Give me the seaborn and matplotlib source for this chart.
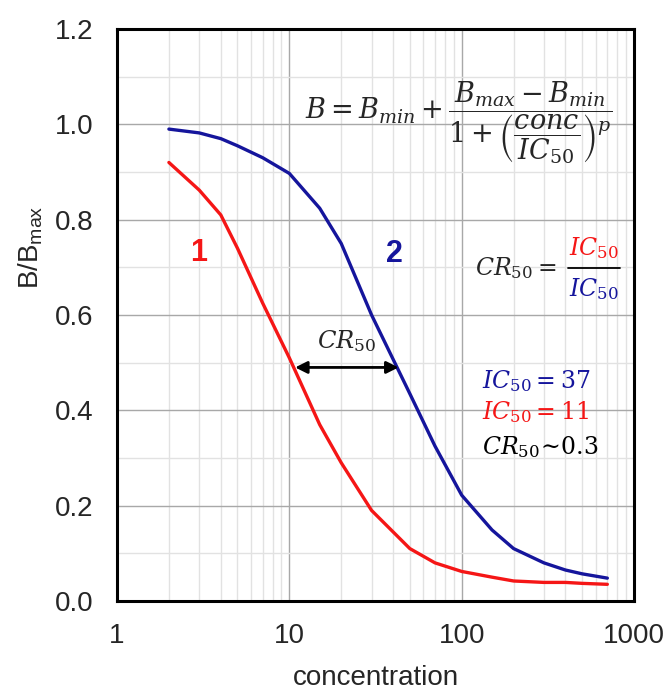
import numpy as np
import pandas as pd
import seaborn as sns
import matplotlib.pyplot as plt
from matplotlib.ticker import LogLocator, MultipleLocator, NullFormatter

# data
conc = [2, 3, 4, 5, 7, 10, 15, 20, 30, 50, 70, 100, 150, 200, 300, 400, 500, 700]
curve1 = [0.92, 0.862, 0.81, 0.74, 0.625, 0.51, 0.37, 0.29, 0.19, 0.11,
          0.08, 0.062, 0.05, 0.042, 0.039, 0.039, 0.037, 0.035]
curve2 = [0.99, 0.982, 0.97, 0.955, 0.93, 0.897, 0.824, 0.75, 0.60, 0.435,
          0.325, 0.222, 0.149, 0.11, 0.08, 0.065, 0.057, 0.048]
x_ticks = [1, 10, 100, 1000]
x_tick_labels = ["1", "10", "100", "1000"]
y_ticks = [0.0, 0.2, 0.4, 0.6, 0.8, 1.0, 1.2]
arrow_x = [10.8, 43]
arrow_y = 0.49

red = "#f51616"
blue = "#15159c"

sns.set_theme(style="white")
plt.rcParams["font.family"] = ["Liberation Sans", "DejaVu Sans"]
plt.rcParams["mathtext.fontset"] = "dejavuserif"

df = pd.DataFrame({"conc": conc + conc,
                   "bb": curve1 + curve2,
                   "curve": ["1"] * len(conc) + ["2"] * len(conc)})

fig = plt.figure(figsize=(6.71, 6.92), dpi=100)
ax = fig.add_axes([0.1744, 0.1315, 0.7705, 0.8266])

sns.lineplot(data=df, x="conc", y="bb", hue="curve", palette=[red, blue],
             linewidth=2.4, legend=False, ax=ax)

ax.set_xscale("log")
ax.set_xlim(1, 1000)
ax.set_ylim(0, 1.2)
ax.set_xticks(x_ticks)
ax.set_xticklabels(x_tick_labels)
ax.xaxis.set_minor_locator(LogLocator(base=10, subs=np.arange(2, 10)))
ax.xaxis.set_minor_formatter(NullFormatter())
ax.set_yticks(y_ticks)
ax.set_yticklabels([f"{v:.1f}" for v in y_ticks])
ax.yaxis.set_minor_locator(MultipleLocator(0.1))

ax.grid(which="major", color="#a8a8a8", linewidth=1.0)
ax.grid(which="minor", color="#e2e2e2", linewidth=1.0)
ax.set_axisbelow(True)
ax.tick_params(which="both", length=0, labelsize=20)
ax.tick_params(axis="y", pad=17)
ax.tick_params(axis="x", pad=16)

for s in ax.spines.values():
    s.set_color("black")
    s.set_linewidth(2.2)

ax.set_xlabel("concentration", fontsize=20, labelpad=11)
ax.set_ylabel(r"B/B$_{\mathregular{max}}$", fontsize=20)
ax.yaxis.set_label_coords(-0.139, 0.619)

# curve numbers
ax.text(0.157, 0.608, "1", color=red, fontsize=22, fontweight="bold",
        ha="center", va="center", transform=ax.transAxes)
ax.text(0.536, 0.606, "2", color=blue, fontsize=22, fontweight="bold",
        ha="center", va="center", transform=ax.transAxes)

# model equation
ax.text(0.959, 0.837,
        r"$B = B_{min} + \dfrac{B_{max} - B_{min}}{1 + \left(\dfrac{conc}{IC_{50}}\right)^{p}}$",
        fontsize=19.5, ha="right", va="center", transform=ax.transAxes)

# CR50 definition with coloured fraction
ax.text(0.692, 0.582, r"$CR_{50} =$", fontsize=17, ha="left", va="center",
        transform=ax.transAxes)
ax.text(0.922, 0.617, r"$IC_{50}$", fontsize=17, color=red, ha="center",
        va="center", transform=ax.transAxes)
ax.text(0.922, 0.545, r"$IC_{50}$", fontsize=17, color=blue, ha="center",
        va="center", transform=ax.transAxes)
ax.plot([0.872, 0.972], [0.582, 0.582], color="black", lw=1.3,
        transform=ax.transAxes)

# results
ax.text(0.706, 0.385, r"$IC_{50} = 37$", fontsize=17, color=blue,
        ha="left", va="center", transform=ax.transAxes)
ax.text(0.706, 0.330, r"$IC_{50} = 11$", fontsize=17, color=red,
        ha="left", va="center", transform=ax.transAxes)
ax.text(0.706, 0.269, r"$CR_{50}\!\sim\!0.3$", fontsize=17, color="black",
        ha="left", va="center", transform=ax.transAxes)

# CR50 arrow between the two IC50 points
ax.annotate("", xy=(arrow_x[0], arrow_y), xytext=(arrow_x[1], arrow_y),
            arrowprops=dict(arrowstyle="<|-|>", color="black", lw=2.0,
                            mutation_scale=18, shrinkA=0, shrinkB=0))
ax.text(np.sqrt(arrow_x[0] * arrow_x[1]), arrow_y + 0.055, r"$CR_{50}$",
        fontsize=17.5, ha="center", va="center")

fig.savefig("out.png", dpi=100)
